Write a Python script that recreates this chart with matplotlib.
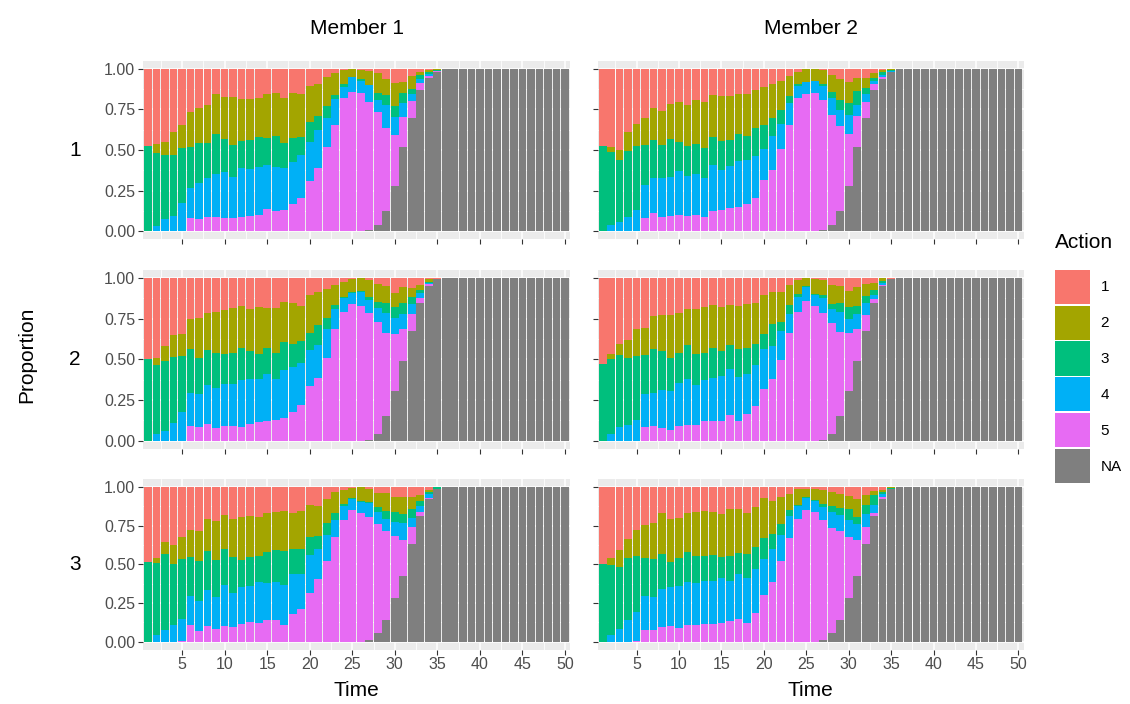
import matplotlib.pyplot as plt
from matplotlib.patches import Patch
import numpy as np

plt.rcParams['font.family'] = ['Liberation Sans', 'DejaVu Sans']

time = np.arange(1, 51)
actions = ["1", "2", "3", "4", "5", "NA"]
colors = ["#F8766D", "#A3A500", "#00BF7D", "#00B0F6", "#E76BF3", "#7F7F7F"]

# share of each action at time 1..35, rows = scenario 1..3
r1m1_a1 = [.477, .46, .45, .389, .346, .265, .239, .222, .156, .175, .173, .185, .187, .177, .154, .148, .177, .148, .152, .105, .095, .049, .027, .008, 0, .004, .012, .025, .06, .086, .078, .045, .019, .006, .002]
r1m1_a2 = [0, .058, .08, .142, .14, .214, .218, .237, .243, .259, .296, .259, .249, .243, .27, .263, .28, .278, .267, .222, .195, .179, .136, .086, .051, .06, .084, .123, .103, .142, .07, .076, .016, .012, .002]
r1m1_a3 = [.523, .447, .393, .377, .34, .255, .247, .214, .249, .2, .198, .165, .181, .185, .171, .191, .154, .148, .113, .126, .086, .074, .021, .016, 0, .01, .004, .041, .058, .066, .064, .033, .029, .014, .006]
r1m1_a4 = [0, .035, .076, .093, .175, .183, .22, .241, .263, .282, .253, .305, .288, .296, .27, .274, .259, .261, .263, .239, .235, .181, .165, .072, .091, .074, .101, .076, .142, .111, .086, .045, .025, .01, .004]
r1m1_a5 = [0, 0, 0, 0, 0, .082, .076, .086, .088, .084, .08, .086, .095, .099, .136, .123, .13, .165, .204, .309, .389, .516, .652, .817, .858, .852, .792, .695, .514, .315, .183, .103, .039, .016, .006]

r1m2_a1 = [.475, .48, .496, .385, .336, .303, .242, .26, .215, .205, .223, .193, .201, .158, .166, .166, .152, .154, .129, .109, .094, .076, .041, .016, .002, 0, .004, .039, .064, .082, .057, .057, .027, .008, .002]
r1m2_a2 = [0, .03, .061, .121, .139, .166, .195, .209, .217, .246, .252, .27, .287, .262, .279, .273, .248, .258, .236, .234, .209, .174, .125, .078, .076, .074, .09, .1, .127, .131, .082, .061, .027, .014, .004]
r1m2_a3 = [.525, .447, .381, .406, .391, .244, .236, .201, .234, .178, .182, .182, .18, .174, .176, .158, .168, .148, .17, .152, .111, .086, .041, .014, .002, .002, .008, .041, .061, .072, .084, .037, .023, .016, .006]
r1m2_a4 = [0, .039, .059, .086, .131, .203, .215, .242, .24, .27, .246, .25, .244, .277, .248, .256, .281, .268, .26, .186, .207, .156, .135, .07, .076, .074, .09, .105, .1, .119, .068, .051, .018, .012, .006]
r1m2_a5 = [0, 0, 0, 0, 0, .082, .111, .086, .092, .098, .094, .102, .086, .127, .129, .145, .15, .17, .203, .318, .377, .506, .656, .82, .842, .848, .797, .674, .523, .316, .191, .096, .037, .014, .004]

r2m1_a1 = [.496, .492, .418, .352, .344, .254, .248, .217, .207, .197, .182, .17, .193, .178, .182, .182, .15, .152, .172, .105, .084, .07, .043, .025, .008, .002, .014, .037, .047, .09, .055, .064, .043, .008, .004]
r2m1_a2 = [0, .043, .09, .131, .135, .184, .242, .225, .256, .268, .279, .258, .258, .291, .25, .277, .242, .252, .215, .234, .207, .174, .125, .094, .078, .076, .102, .111, .109, .088, .098, .055, .031, .016, 0]
r2m1_a3 = [.504, .422, .432, .41, .346, .268, .225, .217, .211, .186, .189, .201, .168, .152, .16, .164, .17, .145, .137, .105, .121, .068, .025, .006, .008, .008, .018, .035, .061, .07, .066, .039, .02, .004, 0]
r2m1_a4 = [0, .043, .059, .107, .174, .201, .197, .238, .246, .258, .256, .285, .279, .264, .287, .25, .295, .275, .258, .223, .201, .18, .123, .082, .066, .084, .082, .086, .119, .096, .096, .061, .029, .012, 0]
r2m1_a5 = [0, 0, 0, 0, 0, .092, .088, .102, .08, .09, .094, .086, .102, .115, .121, .127, .143, .176, .217, .334, .387, .508, .684, .793, .84, .83, .779, .686, .514, .352, .195, .107, .033, .01, 0]

r2m2_a1 = [.529, .465, .406, .379, .316, .305, .232, .227, .23, .215, .193, .191, .178, .164, .178, .166, .174, .162, .154, .102, .088, .084, .043, .012, .002, .008, .012, .043, .047, .08, .057, .039, .031, .002, .004]
r2m2_a2 = [0, .031, .068, .111, .164, .168, .205, .219, .26, .244, .219, .275, .281, .264, .27, .246, .262, .268, .25, .24, .195, .184, .121, .086, .047, .088, .092, .115, .109, .096, .113, .07, .041, .016, 0]
r2m2_a3 = [.471, .461, .441, .414, .389, .24, .27, .24, .207, .184, .207, .193, .166, .184, .156, .143, .17, .158, .131, .096, .135, .057, .057, .02, .004, .006, .02, .035, .051, .078, .049, .047, .033, .012, 0]
r2m2_a4 = [0, .043, .086, .096, .131, .199, .201, .234, .236, .264, .285, .246, .254, .264, .273, .281, .268, .248, .252, .246, .203, .178, .117, .088, .086, .07, .094, .086, .123, .086, .096, .072, .023, .012, 0]
r2m2_a5 = [0, 0, 0, 0, 0, .088, .092, .08, .068, .092, .096, .096, .121, .123, .123, .16, .121, .164, .213, .316, .379, .496, .662, .793, .861, .828, .777, .676, .521, .357, .195, .098, .029, .01, 0]

r3m1_a1 = [.485, .457, .358, .379, .322, .279, .288, .208, .221, .185, .208, .197, .187, .197, .172, .163, .157, .172, .157, .118, .122, .082, .034, .021, .009, .002, .013, .043, .043, .067, .069, .067, .052, .021, .002]
r3m1_a2 = [0, .034, .075, .118, .146, .176, .191, .206, .249, .217, .247, .275, .266, .247, .249, .245, .258, .23, .245, .206, .193, .152, .135, .09, .062, .092, .086, .086, .116, .097, .107, .079, .041, .015, 0]
r3m1_a3 = [.515, .468, .491, .399, .386, .253, .255, .249, .24, .23, .232, .176, .191, .172, .2, .208, .219, .159, .159, .118, .086, .075, .043, .015, .009, .004, .009, .032, .052, .064, .06, .054, .03, .013, .011]
r3m1_a4 = [0, .041, .075, .105, .142, .185, .195, .234, .21, .266, .219, .24, .23, .264, .24, .245, .258, .26, .227, .245, .193, .167, .112, .086, .071, .073, .09, .079, .077, .09, .109, .06, .041, .024, .002]
r3m1_a5 = [0, 0, 0, 0, .004, .107, .069, .103, .079, .103, .094, .112, .127, .12, .139, .139, .109, .18, .212, .313, .406, .524, .676, .788, .85, .83, .79, .702, .571, .401, .23, .109, .026, .009, 0]

r3m2_a1 = [.496, .459, .41, .337, .277, .249, .234, .17, .21, .2, .172, .163, .159, .161, .174, .144, .146, .168, .129, .075, .092, .067, .047, .013, .015, .015, .021, .036, .045, .058, .079, .052, .026, .021, .002]
r3m2_a2 = [0, .045, .107, .122, .167, .21, .234, .266, .275, .258, .247, .283, .288, .279, .279, .3, .281, .266, .258, .253, .212, .172, .103, .105, .054, .071, .09, .088, .09, .088, .114, .067, .028, .011, .008]
r3m2_a3 = [.504, .453, .399, .399, .363, .245, .245, .225, .163, .18, .195, .174, .161, .17, .133, .163, .139, .155, .146, .139, .097, .071, .036, .006, .006, .006, .017, .036, .049, .067, .045, .058, .064, .013, .004]
r3m2_a4 = [0, .043, .084, .142, .189, .219, .21, .245, .249, .277, .281, .27, .279, .277, .294, .258, .29, .29, .281, .23, .21, .17, .144, .082, .075, .071, .088, .103, .101, .112, .105, .086, .049, .019, 0]
r3m2_a5 = [0, 0, 0, 0, .004, .077, .077, .094, .103, .086, .105, .109, .114, .114, .12, .135, .144, .12, .187, .303, .388, .521, .67, .794, .85, .837, .77, .678, .571, .395, .232, .107, .021, .017, 0]

# NA share (episode over) is the same for both members of a row
na_r1 = [0] * 26 + [.006, .039, .123, .28, .519, .698, .872, .94, .98] + [1] * 15
na_r2 = [0] * 26 + [.004, .045, .15, .303, .49, .674, .844, .949, .996] + [1] * 15
na_r3 = [0] * 26 + [.013, .058, .142, .281, .425, .631, .811, .918, .985] + [1] * 15

panels = [
    [[r1m1_a1, r1m1_a2, r1m1_a3, r1m1_a4, r1m1_a5, na_r1],
     [r1m2_a1, r1m2_a2, r1m2_a3, r1m2_a4, r1m2_a5, na_r1]],
    [[r2m1_a1, r2m1_a2, r2m1_a3, r2m1_a4, r2m1_a5, na_r2],
     [r2m2_a1, r2m2_a2, r2m2_a3, r2m2_a4, r2m2_a5, na_r2]],
    [[r3m1_a1, r3m1_a2, r3m1_a3, r3m1_a4, r3m1_a5, na_r3],
     [r3m2_a1, r3m2_a2, r3m2_a3, r3m2_a4, r3m2_a5, na_r3]],
]


def pad(v):
    v = np.asarray(v, dtype=float)
    return np.concatenate([v, np.zeros(len(time) - len(v))])


W, H = 1130, 704
fig = plt.figure(figsize=(W / 100, H / 100), dpi=100)

col_x = [(143, 570), (597.6, 1023.5)]
row_y = [(60.8, 239.3), (269.8, 449), (479, 649.5)]

for r in range(3):
    for c in range(2):
        x0, x1 = col_x[c]
        y0, y1 = row_y[r]
        ax = fig.add_axes([x0 / W, 1 - y1 / H, (x1 - x0) / W, (y1 - y0) / H])
        ax.set_facecolor("#EBEBEB")

        vals = np.array([pad(v) for v in panels[r][c]])
        vals = vals / vals.sum(axis=0)  # position = "fill"
        bottom = np.zeros(len(time))
        for k in [5, 4, 3, 2, 1, 0]:  # NA at the bottom, action 1 on top
            ax.bar(time, vals[k], width=0.9, bottom=bottom, color=colors[k],
                   linewidth=0, zorder=2)
            bottom += vals[k]

        ax.set_xlim(0.4, 50.6)
        ax.set_ylim(-0.05, 1.05)
        ax.set_xticks(range(5, 51, 5))
        ax.set_xticks(np.arange(2.5, 51, 5), minor=True)
        ax.set_yticks([0, 0.25, 0.5, 0.75, 1])
        ax.set_yticks([0.125, 0.375, 0.625, 0.875], minor=True)
        ax.yaxis.set_major_formatter(plt.FormatStrFormatter('%.2f'))
        ax.grid(which='major', color='white', linewidth=1.1, zorder=0)
        ax.grid(which='minor', color='white', linewidth=0.55, zorder=0)
        ax.set_axisbelow(True)
        for s in ax.spines.values():
            s.set_visible(False)
        ax.tick_params(which='major', length=3.5, width=0.8, color='#333333',
                       labelcolor='#4D4D4D', labelsize=11.5, pad=2)
        ax.tick_params(which='minor', length=0)
        ax.tick_params(labelbottom=(r == 2), labelleft=(c == 0))

for c, name in enumerate(["Member 1", "Member 2"]):
    xm = (col_x[c][0] + col_x[c][1]) / 2
    fig.text(xm / W, 1 - 29 / H, name, ha='center', va='center', fontsize=15)
    fig.text(xm / W, 1 - 690 / H, "Time", ha='center', va='center', fontsize=15)

for r in range(3):
    ym = (row_y[r][0] + row_y[r][1]) / 2
    fig.text(75 / W, 1 - ym / H, str(r + 1), ha='center', va='center', fontsize=15)

fig.text(27 / W, 1 - 355 / H, "Proportion", rotation=90, ha='center', va='center',
         fontsize=15)

# legend: title placed on its own so the keys can sit a bit lower
fig.text(1055 / W, 1 - 243 / H, "Action", ha='left', va='center', fontsize=15)
handles = [Patch(facecolor=col, edgecolor='none') for col in colors]
fig.legend(handles, actions, loc='upper left',
           bbox_to_anchor=(1041 / W, 1 - 256 / H), frameon=False, fontsize=11,
           handlelength=2.3, handleheight=3.05,
           labelspacing=0.12, handletextpad=0.7)

fig.savefig("out.png", dpi=100)
